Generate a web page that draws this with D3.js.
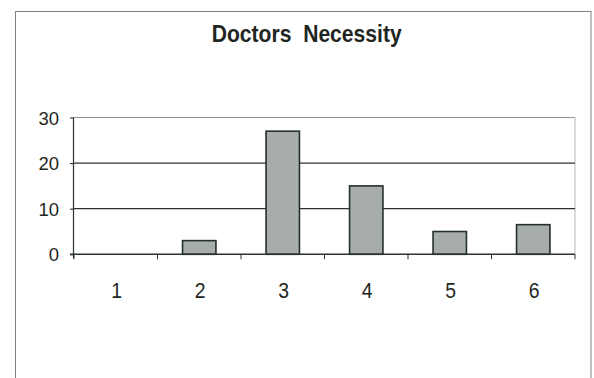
<!DOCTYPE html>
<html>
<head>
<meta charset="utf-8">
<script src="https://cdn.jsdelivr.net/npm/d3@7"></script>
<style>
  html, body { margin: 0; padding: 0; background: #ffffff; }
  svg { display: block; }
  text { font-family: "Liberation Sans", Arial, sans-serif; fill: #1f2622; }
</style>
</head>
<body>
<svg id="chart" width="594" height="378"></svg>
<script>
// Chart content
const chartTitle = "Doctors  Necessity";
const categories = ["1", "2", "3", "4", "5", "6"];
const counts = [0, 3, 27, 15, 5, 6.5];
const yTicks = [0, 10, 20, 30];

const svg = d3.select("#chart");

// Layout
const plot = { left: 74, right: 575, top: 117.5, bottom: 254.3 };

const x = d3.scaleBand()
  .domain(categories)
  .range([plot.left, plot.right])
  .paddingInner(0.6)
  .paddingOuter(0.3);

const y = d3.scaleLinear()
  .domain([0, 30])
  .range([plot.bottom, plot.top]);

// Outer chart frame (continues past the bottom edge)
svg.append("rect")
  .attr("x", 15.5).attr("y", 11.5)
  .attr("width", 575.5).attr("height", 400)
  .attr("fill", "none")
  .attr("stroke", "#7d8480")
  .attr("stroke-width", 1);

// Title, slightly condensed
svg.append("text")
  .attr("x", 306.7).attr("y", 41.7)
  .attr("text-anchor", "middle")
  .attr("font-size", 23.5)
  .attr("font-weight", "bold")
  .attr("fill", "#1c2420")
  .style("white-space", "pre")
  .attr("textLength", 190)
  .attr("lengthAdjust", "spacingAndGlyphs")
  .text(chartTitle);

// Plot area border (top and right, light)
svg.append("line")
  .attr("x1", plot.left).attr("x2", plot.right)
  .attr("y1", y(30)).attr("y2", y(30))
  .attr("stroke", "#8e9490").attr("stroke-width", 1);
svg.append("line")
  .attr("x1", plot.right).attr("x2", plot.right)
  .attr("y1", y(30)).attr("y2", y(0))
  .attr("stroke", "#b4b9b6").attr("stroke-width", 1);

// Major gridlines
svg.append("g")
  .selectAll("line")
  .data(yTicks.filter(d => d > 0 && d < 30))
  .join("line")
  .attr("x1", plot.left).attr("x2", plot.right)
  .attr("y1", d => y(d)).attr("y2", d => y(d))
  .attr("stroke", "#2b332f").attr("stroke-width", 1.3);

// Bars
svg.append("g")
  .selectAll("rect")
  .data(categories.map((c, i) => ({ c, v: counts[i] })).filter(d => d.v > 0))
  .join("rect")
  .attr("x", d => x(d.c))
  .attr("y", d => y(d.v))
  .attr("width", x.bandwidth())
  .attr("height", d => y(0) - y(d.v))
  .attr("fill", "#a7adaa")
  .attr("stroke", "#24302a")
  .attr("stroke-width", 1.6);

// Y axis
const yAxis = d3.axisLeft(y)
  .tickValues(yTicks)
  .tickSize(4)
  .tickPadding(11)
  .tickFormat(d3.format("d"));

const gy = svg.append("g")
  .attr("transform", `translate(${plot.left},0)`)
  .call(yAxis);
gy.select(".domain")
  .attr("stroke", "#2b332f").attr("stroke-width", 1.2)
  .attr("d", `M-0.5,${y(30)}V${y(0) + 4}`);
gy.selectAll(".tick line").attr("stroke", "#2b332f").attr("stroke-width", 1.1);
gy.selectAll(".tick text")
  .attr("font-size", 18.5)
  .attr("font-family", "'Liberation Sans', Arial, sans-serif")
  .attr("fill", "#1f2622")
  .attr("dy", "0.36em");

// X axis line and category separators
svg.append("line")
  .attr("x1", plot.left - 4).attr("x2", plot.right)
  .attr("y1", y(0)).attr("y2", y(0))
  .attr("stroke", "#2b332f").attr("stroke-width", 1.4);

const gap = (x.step() - x.bandwidth()) / 2;
const boundaries = categories.map(c => x(c) - gap).concat([plot.right]);
svg.append("g")
  .selectAll("line")
  .data(boundaries)
  .join("line")
  .attr("x1", d => d).attr("x2", d => d)
  .attr("y1", y(0)).attr("y2", y(0) + 5)
  .attr("stroke", "#2b332f").attr("stroke-width", 1);

// Category labels (tall, narrow digits)
const xLabelScale = 0.88;
svg.append("g")
  .selectAll("text")
  .data(categories)
  .join("text")
  .attr("transform", d => `translate(${x(d) + x.bandwidth() / 2 + 1},297.5) scale(${xLabelScale},1)`)
  .attr("text-anchor", "middle")
  .attr("font-size", 22)
  .text(d => d);
</script>
</body>
</html>
